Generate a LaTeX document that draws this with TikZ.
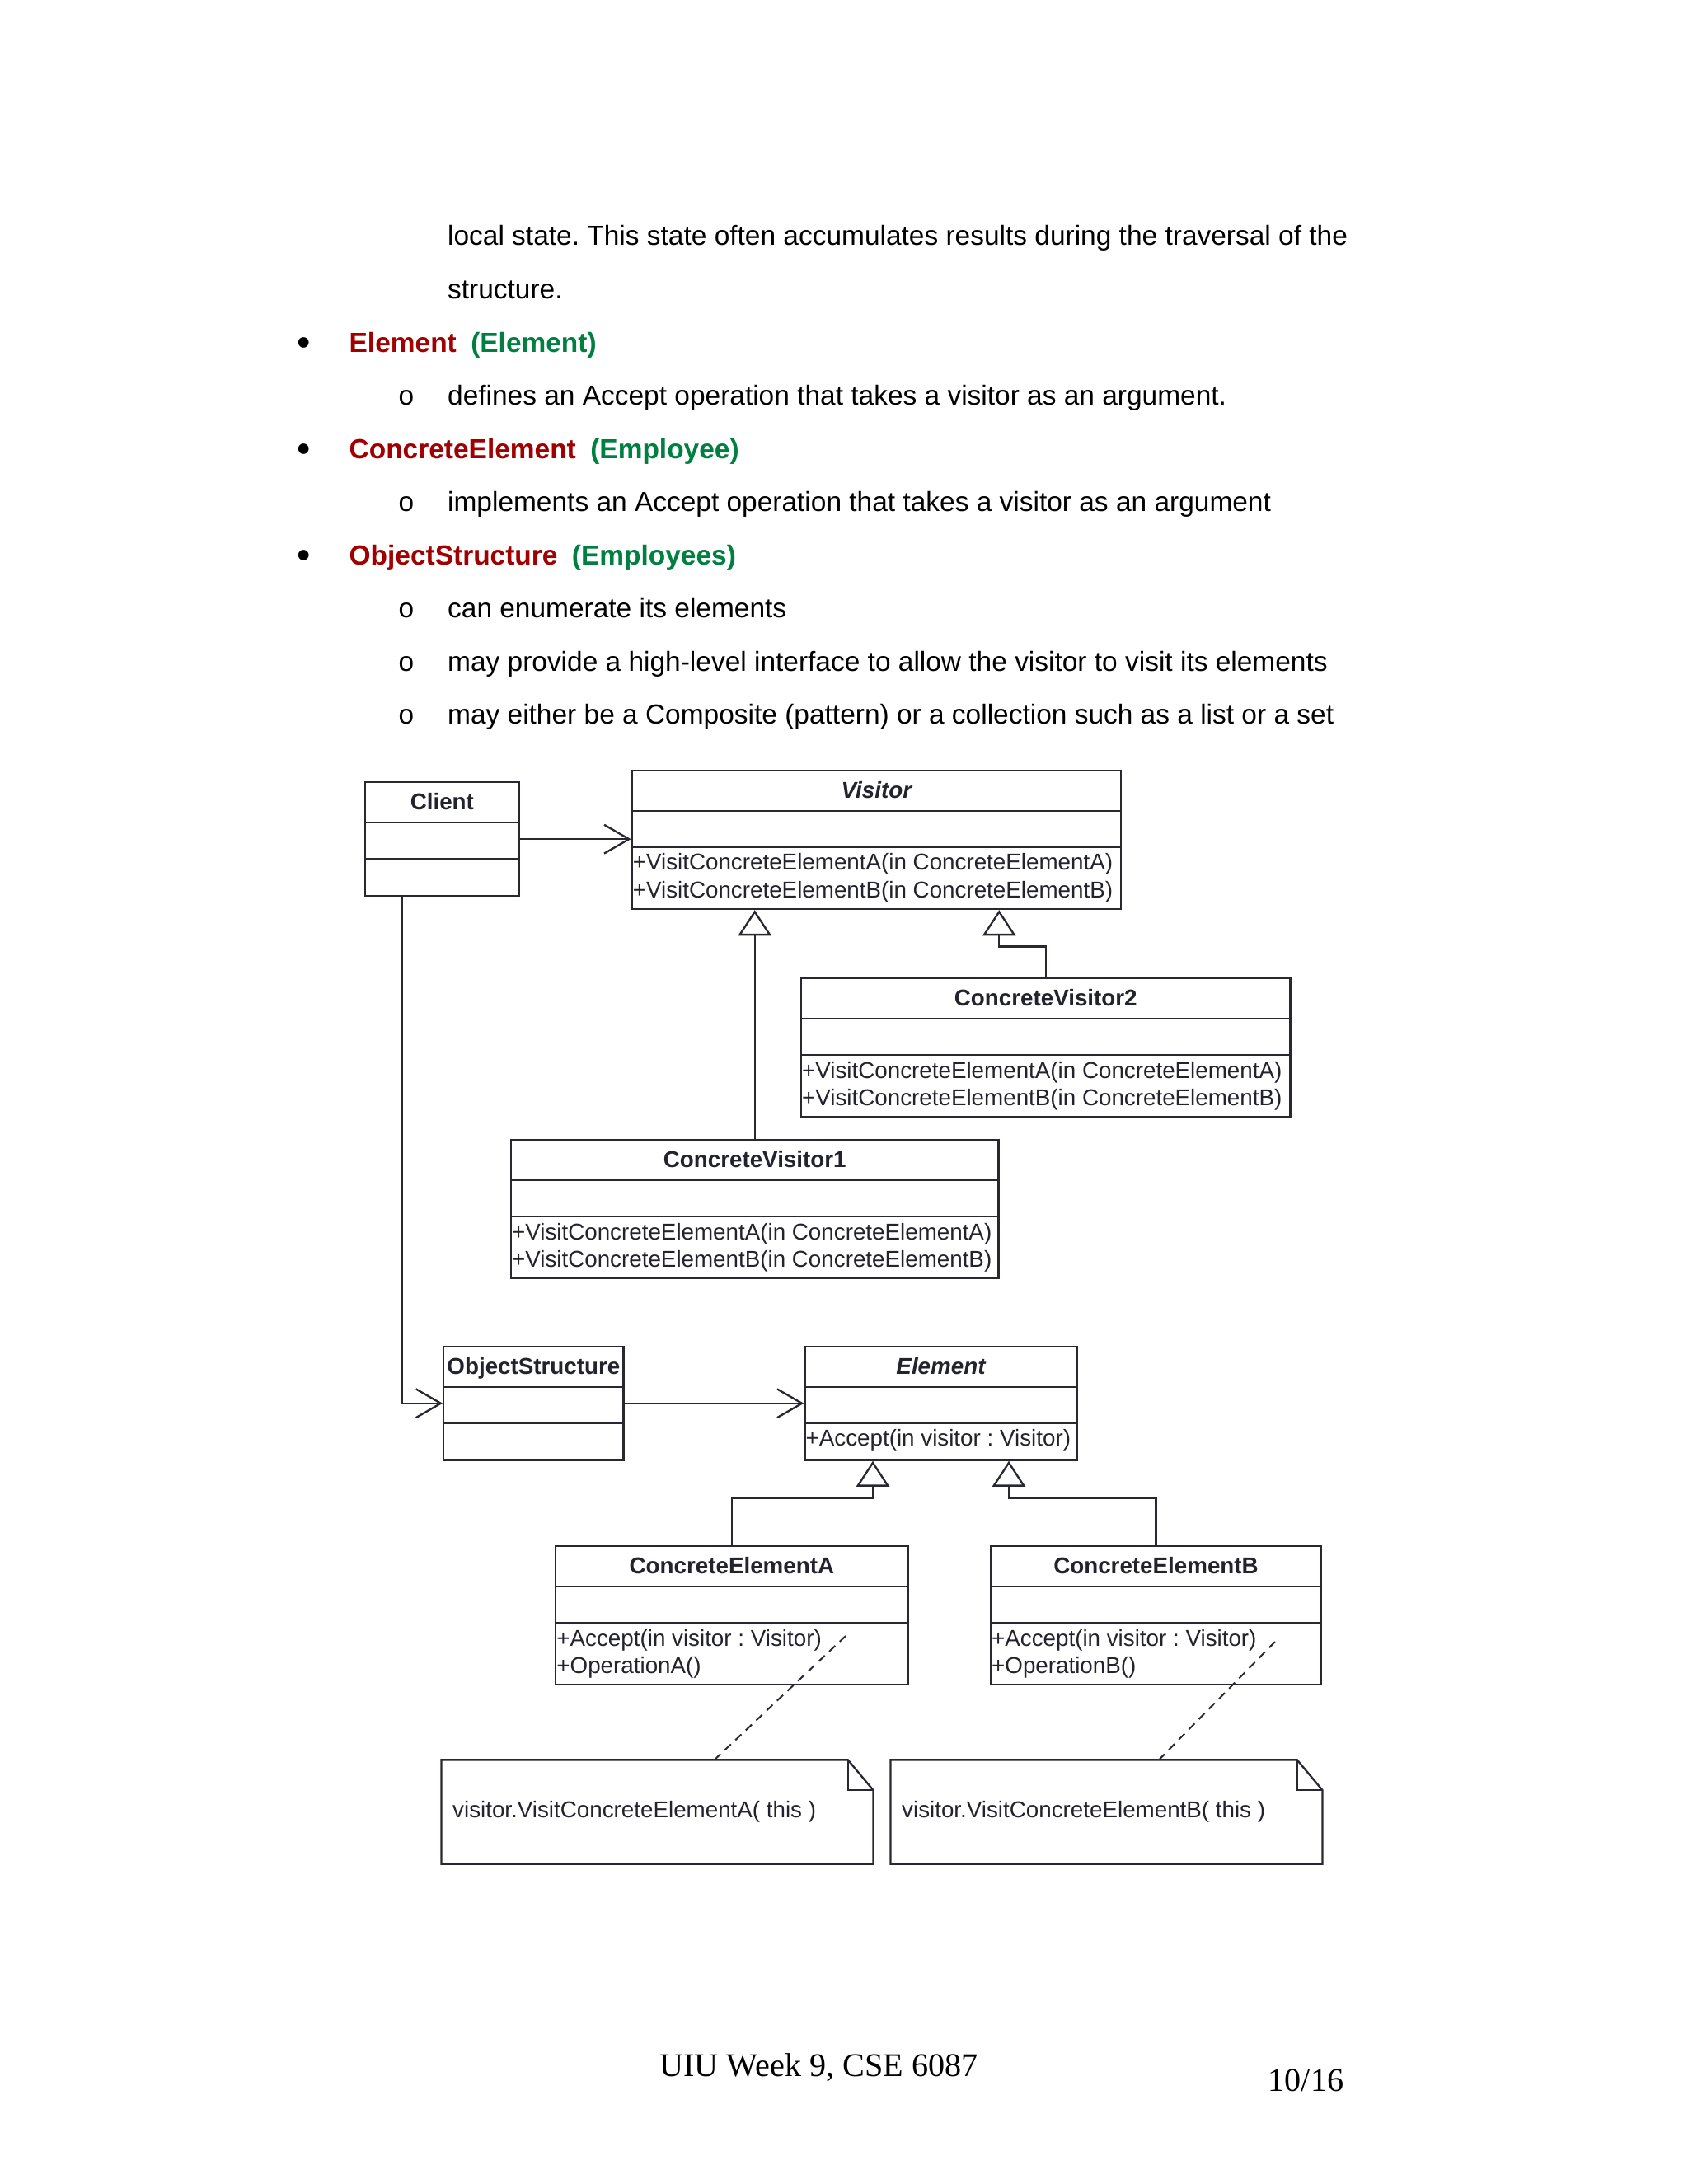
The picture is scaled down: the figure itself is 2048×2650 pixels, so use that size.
\documentclass[tikz,border=0pt]{standalone}
\usepackage{fontspec}
\setmainfont{Liberation Sans}
\newfontfamily\serifface{Liberation Serif}
\newfontfamily\monoface{Liberation Mono}
\usetikzlibrary{arrows.meta}
\frenchspacing

\definecolor{headred}{RGB}{160,0,0}
\definecolor{headgreen}{RGB}{0,128,64}
\definecolor{umlline}{RGB}{40,40,50}
\definecolor{umltext}{RGB}{35,35,45}

\begin{document}
\begin{tikzpicture}[x=0.29883pt, y=-0.29883pt,
    body/.style={anchor=base west, inner sep=0pt, font=\fontsize{10}{12}\selectfont},
    heading/.style={anchor=base west, inner sep=0pt, font=\bfseries\fontsize{10}{12}\selectfont},
    bigdot/.style={anchor=base, inner sep=0pt, font=\fontsize{14}{14}\selectfont},
    subdot/.style={anchor=base, inner sep=0pt, font=\monoface\fontsize{10}{12}\selectfont},
    classbox/.style={draw=umlline, line width=0.7pt, inner sep=0pt, fill=white},
    classtitle/.style={anchor=base, inner sep=0pt, text=umltext, font=\bfseries\fontsize{8.3}{10}\selectfont},
    member/.style={anchor=base west, inner sep=0pt, text=umltext, font=\fontsize{8.3}{10}\selectfont},
    divider/.style={draw=umlline, line width=0.7pt},
    assoc/.style={draw=umlline, line width=0.7pt, -{Straight Barb[length=9pt, width=10.4pt]}},
    inherit/.style={draw=umlline, line width=0.7pt, -{Triangle[open, length=9.3pt, width=12pt]}},
    notelink/.style={draw=umlline, line width=0.6pt, dash pattern=on 3pt off 2.2pt},
    notebox/.style={draw=none, inner sep=0pt, minimum width=156.2pt, minimum height=37.35pt}
  ]
  % page size
  \useasboundingbox (0,0) rectangle (2048,2650);

  % Text above the diagram
  \node[body] (line1) at (542.5,297) {local state. This state often accumulates results during the traversal of the};
  \node[body] (line2) at (542.5,362) {structure.};
  \node[heading] (head1) at (423,427) {\textcolor{headred}{Element}\hspace{5.2pt}\textcolor{headgreen}{(Element)}};
  \node[body] (line3) at (542.5,491.5) {defines an Accept operation that takes a visitor as an argument.};
  \node[heading] (head2) at (423,556) {\textcolor{headred}{ConcreteElement}\hspace{5.2pt}\textcolor{headgreen}{(Employee)}};
  \node[body] (line4) at (542.5,620.5) {implements an Accept operation that takes a visitor as an argument};
  \node[heading] (head3) at (423,685) {\textcolor{headred}{ObjectStructure}\hspace{5.2pt}\textcolor{headgreen}{(Employees)}};
  \node[body] (line5) at (542.5,749.5) {can enumerate its elements};
  \node[body] (line6) at (542.5,814) {may provide a high-level interface to allow the visitor to visit its elements};
  \node[body] (line7) at (542.5,878.5) {may either be a Composite (pattern) or a collection such as a list or a set};

  % Bullets
  \foreach \y [count=\i] in {431,560,689}
    \node[bigdot] (dot\i) at (369,\y) {•};
  \foreach \y [count=\i] in {491.5,620.5,749.5,814,878.5}
    \node[subdot] (sub\i) at (493,\y) {o};

  % Classes
  \node[classbox, minimum width=55.97pt, minimum height=41.15pt] (client) at (536.35,1018.15) {};
  \node[classbox, minimum width=177.3pt, minimum height=50.2pt] (visitor) at (1063.35,1019) {};
  \node[classbox, minimum width=177.35pt, minimum height=50.2pt] (cv2) at (1268.75,1271) {};
  \node[classbox, minimum width=176.8pt, minimum height=50.2pt] (cv1) at (915.75,1467) {};
  \node[classbox, minimum width=65.2pt, minimum height=41.09pt] (os) at (647.4,1702.75) {};
  \node[classbox, minimum width=98.6pt, minimum height=41.09pt] (element) at (1141.5,1702.75) {};
  \node[classbox, minimum width=127.66pt, minimum height=50.2pt] (cea) at (887.9,1960) {};
  \node[classbox, minimum width=119.83pt, minimum height=50.2pt] (ceb) at (1402.5,1960) {};

  % Compartment lines
  \foreach \n in {client,visitor,cv2,cv1,os,element,cea,ceb} {
    \draw[divider] ([yshift=-14.94pt]\n.north west) -- ([yshift=-14.94pt]\n.north east);
    \draw[divider] ([yshift=-28.09pt]\n.north west) -- ([yshift=-28.09pt]\n.north east);
  }

  % Class names
  \node[classtitle] (client-title) at ([yshift=-10.3pt]client.north) {Client};
  \node[classtitle] (visitor-title) at ([yshift=-10.3pt]visitor.north) {\itshape Visitor};
  \node[classtitle] (cv2-title) at ([yshift=-10.3pt]cv2.north) {ConcreteVisitor2};
  \node[classtitle] (cv1-title) at ([yshift=-10.3pt]cv1.north) {ConcreteVisitor1};
  \node[classtitle] (os-title) at ([yshift=-10.3pt]os.north) {ObjectStructure};
  \node[classtitle] (element-title) at ([yshift=-10.3pt]element.north) {\itshape Element};
  \node[classtitle] (cea-title) at ([yshift=-10.3pt]cea.north) {ConcreteElementA};
  \node[classtitle] (ceb-title) at ([yshift=-10.3pt]ceb.north) {ConcreteElementB};

  % Operations
  \foreach \n in {visitor,cv2,cv1} {
    \node[member] (\n-m1) at ([xshift=0.5pt,yshift=-36.5pt]\n.north west) {+VisitConcreteElementA(in ConcreteElementA)};
    \node[member] (\n-m2) at ([xshift=0.5pt,yshift=-46.6pt]\n.north west) {+VisitConcreteElementB(in ConcreteElementB)};
  }
  \node[member] (element-m1) at ([xshift=0.5pt,yshift=-36.5pt]element.north west) {+Accept(in visitor : Visitor)};
  \node[member] (cea-m1) at ([xshift=0.5pt,yshift=-36.5pt]cea.north west) {+Accept(in visitor : Visitor)};
  \node[member] (cea-m2) at ([xshift=0.5pt,yshift=-46.6pt]cea.north west) {+OperationA()};
  \node[member] (ceb-m1) at ([xshift=0.5pt,yshift=-36.5pt]ceb.north west) {+Accept(in visitor : Visitor)};
  \node[member] (ceb-m2) at ([xshift=0.5pt,yshift=-46.6pt]ceb.north west) {+OperationB()};

  % Associations
  \draw[assoc] (client.east) -- (client.east -| visitor.west);
  \draw[assoc] ([xshift=13.93pt]client.south west) |- (os.west);
  \draw[assoc] (os.east) -- (element.west);

  % Generalizations
  \draw[inherit] (cv1.north) -- (cv1.north |- visitor.south);
  \draw[inherit] (cv2.north) -- ++(0,-37.5) -| ([xshift=44.5pt]visitor.south);
  \draw[inherit] (cea.north) -- ++(0,-57) -| ([xshift=-24.65pt]element.south);
  \draw[inherit] (ceb.north) -- ++(0,-57) -| ([xshift=24.65pt]element.south);

  % Notes
  \node[notebox] (noteA) at (797.5,2198.5) {};
  \node[notebox] (noteB) at (1342.5,2198.5) {};
  \foreach \n in {noteA,noteB} {
    \draw[divider] (\n.north west) -- ([xshift=-9.2pt]\n.north east) -- ([yshift=-11pt]\n.north east)
      -- (\n.south east) -- (\n.south west) -- cycle;
    \draw[divider] ([xshift=-9.2pt]\n.north east) |- ([yshift=-11pt]\n.north east);
  }
  \node[member] (noteA-text) at ([xshift=3.9pt,yshift=-2pt]noteA.west) {visitor.VisitConcreteElementA( this )};
  \node[member] (noteB-text) at ([xshift=3.9pt,yshift=-2pt]noteB.west) {visitor.VisitConcreteElementB( this )};

  % Note links
  \coordinate (cea-anchor) at (1026,1985);
  \coordinate (ceb-anchor) at (1547,1992);
  \draw[notelink] (cea-anchor) -- ([xshift=20.7pt]noteA.north);
  \draw[notelink] (ceb-anchor) -- ([xshift=19pt]noteB.north);

  % Footer
  \node[anchor=base, inner sep=0pt, font=\serifface\fontsize{12}{14}\selectfont] (footer) at (993.5,2519) {UIU Week 9, CSE 6087};
  \node[anchor=base west, inner sep=0pt, font=\serifface\fontsize{12}{14}\selectfont] (pagenum) at (1538,2537) {10/16};
\end{tikzpicture}
\end{document}
